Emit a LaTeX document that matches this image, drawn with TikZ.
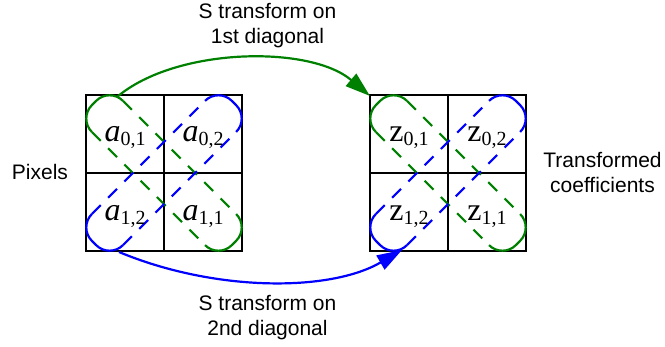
\documentclass[tikz,border=0pt]{standalone}
\usepackage{fontspec}
\setmainfont{Liberation Sans}
\newfontfamily\tmsfont{Liberation Serif}
\usetikzlibrary{arrows.meta}
\definecolor{dgreen}{RGB}{0,128,0}
\definecolor{pblue}{RGB}{0,0,255}
\newcommand\celltext[3]{{\tmsfont\fontsize{32}{32}\selectfont#1{#2}\raisebox{-4pt}{\fontsize{20}{20}\selectfont\upshape #3}}}
\newcommand\stadiumshape[3]{%
  \begin{scope}[shift={#1}, rotate=#2, draw=#3, line width=2.2pt]
    \draw[sidedash] (-80,22) -- (80,22);
    \draw[sidedash] (-80,-22) -- (80,-22);
    \draw[rounded corners=19pt] (80,22) -- (99,22) -- (99,-22) -- (80,-22);
    \draw[rounded corners=19pt] (-80,22) -- (-99,22) -- (-99,-22) -- (-80,-22);
  \end{scope}}
\begin{document}
\begin{tikzpicture}[x=1pt,y=-1pt,
  gridline/.style={draw=black, line width=2.2pt},
  sidedash/.style={dash pattern=on 12.5pt off 10.5pt},
  lbl/.style={font=\fontsize{21}{25.4}\selectfont, align=center, inner sep=0pt},
  cellA/.style={inner sep=0pt, anchor=base},
  arr/.style={-{Triangle[length=25pt,width=16pt]}, line width=2.2pt}]
\useasboundingbox (0,0) rectangle (665,347);
% grids
\draw[gridline] (86,95) rectangle (242,251);
\draw[gridline] (164,95) -- (164,251);
\draw[gridline] (86,173) -- (242,173);
\draw[gridline] (370,95) rectangle (526,251);
\draw[gridline] (448,95) -- (448,251);
\draw[gridline] (370,173) -- (526,173);
% diagonal groupings
\stadiumshape{(164,173)}{-45}{dgreen}
\stadiumshape{(164,173)}{45}{pblue}
\stadiumshape{(448,173)}{-45}{dgreen}
\stadiumshape{(448,173)}{45}{pblue}
% cell texts
\node[cellA] (a01) at (125,141.5) {\celltext{\textit}{a}{0,1}};
\node[cellA] (a02) at (203,141.5) {\celltext{\textit}{a}{0,2}};
\node[cellA] (a12) at (125,220.5) {\celltext{\textit}{a}{1,2}};
\node[cellA] (a11) at (203,220.5) {\celltext{\textit}{a}{1,1}};
\node[cellA] (z01) at (409,141.5) {\celltext{}{z}{0,1}};
\node[cellA] (z02) at (487,141.5) {\celltext{}{z}{0,2}};
\node[cellA] (z12) at (409,220.5) {\celltext{}{z}{1,2}};
\node[cellA] (z11) at (487,220.5) {\celltext{}{z}{1,1}};
% arrows
\coordinate (gs) at (117,97);
\coordinate (ge) at (370,96);
\coordinate (bs) at (119,252);
\coordinate (be) at (402,250);
\draw[arr, dgreen] (gs) .. controls (176,47) and (310,45) .. (ge);
\draw[arr, pblue] (bs) .. controls (215,292) and (330,292) .. (be);
% labels
\node[lbl, anchor=north] (t1) at (267.5,3) {S transform on\\1st diagonal};
\node[lbl, anchor=north] (t2) at (267.5,294.7) {S transform on\\2nd diagonal};
\node[lbl, anchor=base] (px) at (40,179.3) {Pixels};
\node[lbl, anchor=north] (tc) at (602.5,152) {Transformed\\coefficients};
\end{tikzpicture}
\end{document}
